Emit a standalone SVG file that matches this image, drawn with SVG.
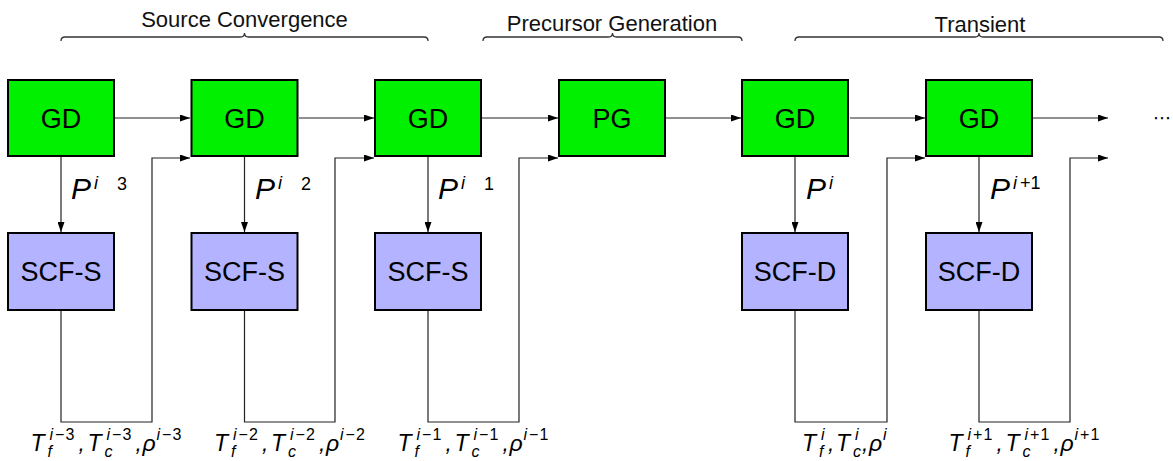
<svg xmlns="http://www.w3.org/2000/svg" width="1173" height="461" viewBox="0 0 1173 461">
<style>
.box{stroke:#000;stroke-width:2}
.gd{fill:#00f000}
.scf{fill:#b3b3ff}
.lbl{font-family:"Liberation Sans",Arial,sans-serif;font-size:27px;text-anchor:middle;fill:#000}
.conn{fill:none;stroke:#222;stroke-width:1.2}
.brace{fill:none;stroke:#333;stroke-width:1.3}
.head{font-family:"Liberation Sans",Arial,sans-serif;font-size:22px;text-anchor:middle;fill:#111}
.m{font-family:"Liberation Sans",Arial,sans-serif;font-style:italic;fill:#000;font-size:23px}
.p{font-size:30px}
.ps{font-size:18px}
.s{font-size:16px}
.up{font-style:normal}
</style>
<defs>
<marker id="arr" viewBox="0 0 10 7" refX="10" refY="3.5" markerWidth="10" markerHeight="7" markerUnits="userSpaceOnUse" orient="auto">
<path d="M0,0 L10,3.5 L0,7 z" fill="#000"/>
</marker>
</defs>

<g id="braces">
<path class="brace" d="M61,41 Q61,37 65,37 L240.5,37 Q244.5,37 244.5,33 Q244.5,37 248.5,37 L424,37 Q428,37 428,41"/>
<text class="head" x="244.5" y="27">Source Convergence</text>
<path class="brace" d="M483,41 Q483,37 487,37 L608.5,37 Q612.5,37 612.5,33 Q612.5,37 616.5,37 L738,37 Q742,37 742,41"/>
<text class="head" x="612" y="31">Precursor Generation</text>
<path class="brace" d="M795,41 Q795,37 799,37 L975,37 Q979,37 979,33 Q979,37 983,37 L1159,37 Q1163,37 1163,41"/>
<text class="head" x="980" y="31.5">Transient</text>
</g>

<g id="connectors">
<line class="conn" x1="115" y1="118" x2="190" y2="118" marker-end="url(#arr)"/>
<line class="conn" x1="299" y1="118" x2="374" y2="118" marker-end="url(#arr)"/>
<line class="conn" x1="482" y1="118" x2="558" y2="118" marker-end="url(#arr)"/>
<line class="conn" x1="666" y1="118" x2="741" y2="118" marker-end="url(#arr)"/>
<line class="conn" x1="850" y1="118" x2="925" y2="118" marker-end="url(#arr)"/>
<line class="conn" x1="1033" y1="118" x2="1108" y2="118" marker-end="url(#arr)"/>
<line class="conn" x1="61" y1="157" x2="61" y2="232" marker-end="url(#arr)"/>
<line class="conn" x1="244.5" y1="157" x2="244.5" y2="232" marker-end="url(#arr)"/>
<line class="conn" x1="428" y1="157" x2="428" y2="232" marker-end="url(#arr)"/>
<line class="conn" x1="795" y1="157" x2="795" y2="232" marker-end="url(#arr)"/>
<line class="conn" x1="979" y1="157" x2="979" y2="232" marker-end="url(#arr)"/>
<path class="conn" d="M61,311 V422 H152 V158 H190" marker-end="url(#arr)"/>
<path class="conn" d="M244.5,311 V422 H335 V158 H374" marker-end="url(#arr)"/>
<path class="conn" d="M428,311 V422 H519 V158 H558" marker-end="url(#arr)"/>
<path class="conn" d="M795,311 V422 H887 V158 H925" marker-end="url(#arr)"/>
<path class="conn" d="M979,311 V422 H1070 V158 H1108" marker-end="url(#arr)"/>
</g>

<g id="gd1"><rect class="box gd" x="8" y="80" width="106" height="76"/><text class="lbl" x="61" y="128">GD</text></g>
<g id="gd2"><rect class="box gd" x="191.5" y="80" width="106" height="76"/><text class="lbl" x="244.5" y="128">GD</text></g>
<g id="gd3"><rect class="box gd" x="375" y="80" width="106" height="76"/><text class="lbl" x="428" y="128">GD</text></g>
<g id="pg"><rect class="box gd" x="559" y="80" width="106" height="76"/><text class="lbl" x="612" y="128">PG</text></g>
<g id="gd5"><rect class="box gd" x="742" y="80" width="106" height="76"/><text class="lbl" x="795" y="128">GD</text></g>
<g id="gd6"><rect class="box gd" x="926" y="80" width="106" height="76"/><text class="lbl" x="979" y="128">GD</text></g>

<g id="scf1"><rect class="box scf" x="8" y="233" width="106" height="77"/><text class="lbl" x="61" y="281">SCF-S</text></g>
<g id="scf2"><rect class="box scf" x="191.5" y="233" width="106" height="77"/><text class="lbl" x="244.5" y="281">SCF-S</text></g>
<g id="scf3"><rect class="box scf" x="375" y="233" width="106" height="77"/><text class="lbl" x="428" y="281">SCF-S</text></g>
<g id="scf5"><rect class="box scf" x="742" y="233" width="106" height="77"/><text class="lbl" x="795" y="281">SCF-D</text></g>
<g id="scf6"><rect class="box scf" x="926" y="233" width="106" height="77"/><text class="lbl" x="979" y="281">SCF-D</text></g>

<g id="ellipsis"><text x="1162" y="124" font-family="DejaVu Sans,sans-serif" font-size="18" text-anchor="middle" fill="#000">⋯</text></g>

<g id="plabels">
<text class="m p" x="71" y="199">P<tspan class="ps" x="94" y="189">i</tspan><tspan class="ps up" x="117" y="190">3</tspan></text>
<text class="m p" x="255" y="199">P<tspan class="ps" x="278" y="189">i</tspan><tspan class="ps up" x="301" y="190">2</tspan></text>
<text class="m p" x="438" y="199">P<tspan class="ps" x="461" y="189">i</tspan><tspan class="ps up" x="484" y="190">1</tspan></text>
<text class="m p" x="806" y="199">P<tspan class="ps" x="829" y="189">i</tspan></text>
<text class="m p" x="990" y="199">P<tspan class="ps" x="1013" y="189">i</tspan><tspan class="ps up" x="1020" y="189">+1</tspan></text>
</g>

<g id="vlabels">
<text class="m"><tspan x="30.5" y="451">T</tspan><tspan class="s" x="47.5" y="457">f</tspan><tspan class="s" x="49.5" y="440">i</tspan><tspan class="s up" x="55" y="440">−</tspan><tspan class="s up" x="65.5" y="440">3</tspan><tspan x="78.5" y="451">,</tspan><tspan x="87.5" y="451">T</tspan><tspan class="s" x="104.5" y="457">c</tspan><tspan class="s" x="106.5" y="440">i</tspan><tspan class="s up" x="112" y="440">−</tspan><tspan class="s up" x="122.5" y="440">3</tspan><tspan x="135.5" y="451">,</tspan><tspan x="142.5" y="451">ρ</tspan><tspan class="s" x="156.5" y="440">i</tspan><tspan class="s up" x="162" y="440">−</tspan><tspan class="s up" x="172.5" y="440">3</tspan></text>
<text class="m"><tspan x="214" y="451">T</tspan><tspan class="s" x="231" y="457">f</tspan><tspan class="s" x="233" y="440">i</tspan><tspan class="s up" x="238.5" y="440">−</tspan><tspan class="s up" x="249" y="440">2</tspan><tspan x="262" y="451">,</tspan><tspan x="271" y="451">T</tspan><tspan class="s" x="288" y="457">c</tspan><tspan class="s" x="290" y="440">i</tspan><tspan class="s up" x="295.5" y="440">−</tspan><tspan class="s up" x="306" y="440">2</tspan><tspan x="319" y="451">,</tspan><tspan x="326" y="451">ρ</tspan><tspan class="s" x="340" y="440">i</tspan><tspan class="s up" x="345.5" y="440">−</tspan><tspan class="s up" x="356" y="440">2</tspan></text>
<text class="m"><tspan x="397.5" y="451">T</tspan><tspan class="s" x="414.5" y="457">f</tspan><tspan class="s" x="416.5" y="440">i</tspan><tspan class="s up" x="422" y="440">−</tspan><tspan class="s up" x="432.5" y="440">1</tspan><tspan x="445.5" y="451">,</tspan><tspan x="454.5" y="451">T</tspan><tspan class="s" x="471.5" y="457">c</tspan><tspan class="s" x="473.5" y="440">i</tspan><tspan class="s up" x="479" y="440">−</tspan><tspan class="s up" x="489.5" y="440">1</tspan><tspan x="502.5" y="451">,</tspan><tspan x="509.5" y="451">ρ</tspan><tspan class="s" x="523.5" y="440">i</tspan><tspan class="s up" x="529" y="440">−</tspan><tspan class="s up" x="539.5" y="440">1</tspan></text>
<text class="m"><tspan x="802" y="451">T</tspan><tspan class="s" x="819" y="457">f</tspan><tspan class="s" x="821" y="440">i</tspan><tspan x="828" y="451">,</tspan><tspan x="836" y="451">T</tspan><tspan class="s" x="853" y="457">c</tspan><tspan class="s" x="855" y="440">i</tspan><tspan x="862" y="451">,</tspan><tspan x="869" y="451">ρ</tspan><tspan class="s" x="883" y="440">i</tspan></text>
<text class="m"><tspan x="948.5" y="451">T</tspan><tspan class="s" x="965.5" y="457">f</tspan><tspan class="s" x="967.5" y="440">i</tspan><tspan class="s up" x="973" y="440">+</tspan><tspan class="s up" x="983.5" y="440">1</tspan><tspan x="996.5" y="451">,</tspan><tspan x="1005.5" y="451">T</tspan><tspan class="s" x="1022.5" y="457">c</tspan><tspan class="s" x="1024.5" y="440">i</tspan><tspan class="s up" x="1030" y="440">+</tspan><tspan class="s up" x="1040.5" y="440">1</tspan><tspan x="1053.5" y="451">,</tspan><tspan x="1060.5" y="451">ρ</tspan><tspan class="s" x="1074.5" y="440">i</tspan><tspan class="s up" x="1080" y="440">+</tspan><tspan class="s up" x="1090.5" y="440">1</tspan></text>
</g>
</svg>
